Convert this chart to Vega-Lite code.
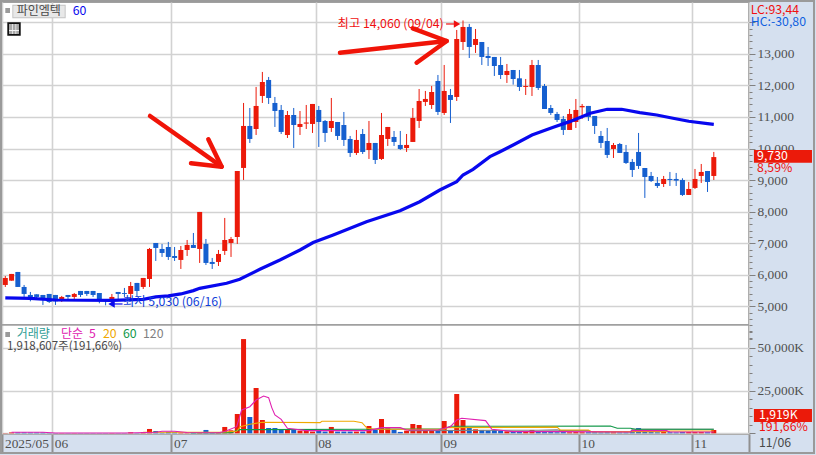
{
  "$schema": "https://vega.github.io/schema/vega-lite/v6.json",
  "autosize": "none",
  "width": 747,
  "height": 432,
  "padding": {"left": 2, "top": 2, "right": 67, "bottom": 21},
  "background": "#d5e0ef",
  "view": {"fill": "#ffffff", "stroke": "#a0a0a0", "strokeWidth": 2},
  "config": {
    "axis": {"title": null, "labelFont": "Liberation Sans Narrow", "labelColor": "#505050", "labelFontSize": 13.4, "gridColor": "#d2d2d2", "gridWidth": 1.6, "tickColor": "#808080", "domain": false},
    "text": {"font": "Liberation Sans Narrow, Noto Sans CJK KR"}
  },
  "datasets": {
    "candles": [
      {"i":0,"o":5676,"c":5898,"h":5961,"l":5613,"v":150,"d":"up"},
      {"i":1,"o":5812,"c":6025,"h":6025,"l":5812,"v":500,"d":"up"},
      {"i":2,"o":6088,"c":5613,"h":6088,"l":5613,"v":500,"d":"down"},
      {"i":3,"o":5613,"c":5391,"h":5676,"l":5296,"v":500,"d":"down"},
      {"i":4,"o":5359,"c":5200,"h":5454,"l":5158,"v":450,"d":"down"},
      {"i":5,"o":5380,"c":5296,"h":5380,"l":5200,"v":450,"d":"down"},
      {"i":6,"o":5359,"c":5200,"h":5359,"l":5042,"v":450,"d":"down"},
      {"i":7,"o":5391,"c":5137,"h":5391,"l":5106,"v":150,"d":"down"},
      {"i":8,"o":5359,"c":5158,"h":5359,"l":5042,"v":120,"d":"down"},
      {"i":9,"o":5169,"c":5296,"h":5328,"l":5137,"v":100,"d":"up"},
      {"i":10,"o":5359,"c":5296,"h":5359,"l":5169,"v":100,"d":"down"},
      {"i":11,"o":5296,"c":5391,"h":5422,"l":5232,"v":100,"d":"up"},
      {"i":12,"o":5486,"c":5359,"h":5486,"l":5296,"v":100,"d":"down"},
      {"i":13,"o":5486,"c":5391,"h":5486,"l":5328,"v":100,"d":"down"},
      {"i":14,"o":5486,"c":5359,"h":5486,"l":5296,"v":100,"d":"down"},
      {"i":15,"o":5422,"c":5169,"h":5422,"l":5095,"v":100,"d":"down"},
      {"i":16,"o":5200,"c":5169,"h":5200,"l":5030,"v":100,"d":"down"},
      {"i":17,"o":5169,"c":5296,"h":5391,"l":5100,"v":120,"d":"up"},
      {"i":18,"o":5454,"c":5391,"h":5454,"l":5200,"v":100,"d":"down"},
      {"i":19,"o":5422,"c":5391,"h":5581,"l":5296,"v":100,"d":"down"},
      {"i":20,"o":5391,"c":5644,"h":5771,"l":5232,"v":580,"d":"up"},
      {"i":21,"o":5740,"c":5486,"h":5740,"l":5296,"v":150,"d":"down"},
      {"i":22,"o":5613,"c":5898,"h":5898,"l":5549,"v":580,"d":"up"},
      {"i":23,"o":5866,"c":6817,"h":6849,"l":5613,"v":2530,"d":"up"},
      {"i":24,"o":7007,"c":6849,"h":7007,"l":6437,"v":1360,"d":"down"},
      {"i":25,"o":6817,"c":6690,"h":6976,"l":6564,"v":400,"d":"down"},
      {"i":26,"o":6880,"c":6564,"h":7040,"l":6469,"v":800,"d":"down"},
      {"i":27,"o":6595,"c":6532,"h":6880,"l":6437,"v":600,"d":"down"},
      {"i":28,"o":6469,"c":6785,"h":6912,"l":6183,"v":400,"d":"up"},
      {"i":29,"o":6785,"c":6944,"h":7102,"l":6595,"v":300,"d":"up"},
      {"i":30,"o":6944,"c":6849,"h":7324,"l":6849,"v":300,"d":"down"},
      {"i":31,"o":6817,"c":7990,"h":7990,"l":6374,"v":400,"d":"up"},
      {"i":32,"o":6976,"c":6374,"h":7134,"l":6310,"v":1950,"d":"down"},
      {"i":33,"o":6405,"c":6342,"h":6532,"l":6183,"v":350,"d":"down"},
      {"i":34,"o":6405,"c":6659,"h":6785,"l":6278,"v":300,"d":"up"},
      {"i":35,"o":6754,"c":7102,"h":7800,"l":6627,"v":3700,"d":"up"},
      {"i":36,"o":7007,"c":7134,"h":7197,"l":6564,"v":1750,"d":"up"},
      {"i":37,"o":7197,"c":9289,"h":9289,"l":6976,"v":11280,"d":"up"},
      {"i":38,"o":9385,"c":10716,"h":11445,"l":9004,"v":55040,"d":"up"},
      {"i":39,"o":10716,"c":10304,"h":11286,"l":10177,"v":9530,"d":"down"},
      {"i":40,"o":10620,"c":11350,"h":11952,"l":10430,"v":26450,"d":"up"},
      {"i":41,"o":11667,"c":12110,"h":12428,"l":11445,"v":7780,"d":"up"},
      {"i":42,"o":12174,"c":11603,"h":12269,"l":11413,"v":3110,"d":"down"},
      {"i":43,"o":11445,"c":11191,"h":11635,"l":10684,"v":3110,"d":"down"},
      {"i":44,"o":11223,"c":10526,"h":11381,"l":10462,"v":1950,"d":"down"},
      {"i":45,"o":10430,"c":11064,"h":11191,"l":10335,"v":1950,"d":"up"},
      {"i":46,"o":11064,"c":10747,"h":11286,"l":10018,"v":2330,"d":"down"},
      {"i":47,"o":10684,"c":10779,"h":11191,"l":10430,"v":1560,"d":"up"},
      {"i":48,"o":10790,"c":10825,"h":11381,"l":10620,"v":1560,"d":"up"},
      {"i":49,"o":10779,"c":11413,"h":11413,"l":10494,"v":1000,"d":"up"},
      {"i":50,"o":11223,"c":10842,"h":11350,"l":10050,"v":1560,"d":"down"},
      {"i":51,"o":10874,"c":10494,"h":10905,"l":10209,"v":1000,"d":"down"},
      {"i":52,"o":10652,"c":10874,"h":11603,"l":10526,"v":3700,"d":"up"},
      {"i":53,"o":10842,"c":10399,"h":10842,"l":10272,"v":1000,"d":"down"},
      {"i":54,"o":10747,"c":10272,"h":11159,"l":10082,"v":1000,"d":"down"},
      {"i":55,"o":10304,"c":9860,"h":10399,"l":9733,"v":1000,"d":"down"},
      {"i":56,"o":9860,"c":10272,"h":10589,"l":9796,"v":1000,"d":"up"},
      {"i":57,"o":10462,"c":9892,"h":10620,"l":9828,"v":1000,"d":"down"},
      {"i":58,"o":9954,"c":10177,"h":10874,"l":9670,"v":4280,"d":"up"},
      {"i":59,"o":10177,"c":9638,"h":10177,"l":9511,"v":1950,"d":"down"},
      {"i":60,"o":9670,"c":10430,"h":11128,"l":9638,"v":8360,"d":"up"},
      {"i":61,"o":10304,"c":10684,"h":10684,"l":10082,"v":2900,"d":"up"},
      {"i":62,"o":10367,"c":10209,"h":10557,"l":10082,"v":1950,"d":"down"},
      {"i":63,"o":10114,"c":9987,"h":10557,"l":9955,"v":800,"d":"down"},
      {"i":64,"o":10018,"c":10114,"h":10462,"l":9892,"v":1560,"d":"up"},
      {"i":65,"o":10209,"c":10969,"h":11286,"l":10209,"v":5450,"d":"up"},
      {"i":66,"o":10874,"c":11508,"h":11888,"l":10652,"v":4860,"d":"up"},
      {"i":67,"o":11477,"c":11572,"h":11825,"l":11350,"v":1560,"d":"up"},
      {"i":68,"o":11381,"c":11793,"h":11984,"l":11255,"v":1560,"d":"up"},
      {"i":69,"o":12142,"c":11160,"h":12332,"l":11064,"v":1950,"d":"down"},
      {"i":70,"o":11128,"c":11825,"h":12649,"l":11064,"v":7200,"d":"up"},
      {"i":71,"o":11698,"c":11540,"h":11888,"l":10811,"v":1950,"d":"down"},
      {"i":72,"o":11635,"c":13473,"h":13758,"l":11508,"v":22950,"d":"up"},
      {"i":73,"o":13378,"c":13854,"h":14060,"l":13124,"v":7780,"d":"up"},
      {"i":74,"o":13854,"c":13220,"h":13950,"l":12870,"v":3110,"d":"down"},
      {"i":75,"o":13283,"c":13473,"h":13790,"l":13030,"v":2330,"d":"up"},
      {"i":76,"o":13378,"c":12903,"h":13378,"l":12649,"v":1950,"d":"down"},
      {"i":77,"o":12935,"c":12870,"h":13220,"l":12617,"v":1560,"d":"down"},
      {"i":78,"o":12903,"c":12617,"h":12903,"l":12300,"v":1950,"d":"down"},
      {"i":79,"o":12649,"c":12332,"h":12903,"l":12205,"v":1560,"d":"down"},
      {"i":80,"o":12332,"c":12459,"h":12681,"l":12079,"v":1170,"d":"up"},
      {"i":81,"o":12491,"c":12205,"h":12491,"l":12026,"v":1000,"d":"down"},
      {"i":82,"o":12226,"c":11952,"h":12491,"l":11825,"v":1000,"d":"down"},
      {"i":83,"o":11952,"c":11983,"h":12205,"l":11698,"v":1000,"d":"up"},
      {"i":84,"o":11952,"c":12649,"h":12808,"l":11666,"v":1950,"d":"up"},
      {"i":85,"o":12649,"c":11920,"h":12808,"l":11857,"v":1000,"d":"down"},
      {"i":86,"o":11983,"c":11254,"h":12047,"l":11254,"v":700,"d":"down"},
      {"i":87,"o":11286,"c":11128,"h":11381,"l":11064,"v":700,"d":"down"},
      {"i":88,"o":11096,"c":10906,"h":11160,"l":10842,"v":600,"d":"down"},
      {"i":89,"o":10938,"c":10589,"h":11033,"l":10430,"v":700,"d":"down"},
      {"i":90,"o":10589,"c":11096,"h":11254,"l":10589,"v":600,"d":"up"},
      {"i":91,"o":10842,"c":11223,"h":11571,"l":10652,"v":700,"d":"up"},
      {"i":92,"o":11307,"c":11350,"h":11413,"l":10938,"v":600,"d":"up"},
      {"i":93,"o":11350,"c":11001,"h":11350,"l":10874,"v":600,"d":"down"},
      {"i":94,"o":11033,"c":10716,"h":11033,"l":10462,"v":600,"d":"down"},
      {"i":95,"o":10399,"c":10177,"h":10557,"l":10018,"v":500,"d":"down"},
      {"i":96,"o":10240,"c":9797,"h":10652,"l":9701,"v":600,"d":"down"},
      {"i":97,"o":9987,"c":10113,"h":10177,"l":9701,"v":600,"d":"up"},
      {"i":98,"o":10145,"c":9860,"h":10177,"l":9860,"v":500,"d":"down"},
      {"i":99,"o":9892,"c":9543,"h":10113,"l":9511,"v":500,"d":"down"},
      {"i":100,"o":9575,"c":9321,"h":9670,"l":9099,"v":700,"d":"down"},
      {"i":101,"o":9892,"c":9448,"h":10494,"l":9353,"v":3100,"d":"down"},
      {"i":102,"o":9384,"c":9099,"h":9384,"l":8434,"v":1000,"d":"down"},
      {"i":103,"o":9131,"c":8972,"h":9258,"l":8941,"v":700,"d":"down"},
      {"i":104,"o":8909,"c":8814,"h":9099,"l":8751,"v":600,"d":"down"},
      {"i":105,"o":8877,"c":9036,"h":9131,"l":8782,"v":1000,"d":"up"},
      {"i":106,"o":9036,"c":9004,"h":9258,"l":8814,"v":600,"d":"down"},
      {"i":107,"o":9036,"c":8983,"h":9226,"l":8814,"v":500,"d":"down"},
      {"i":108,"o":9004,"c":8529,"h":9057,"l":8497,"v":700,"d":"down"},
      {"i":109,"o":8529,"c":8719,"h":8941,"l":8529,"v":700,"d":"up"},
      {"i":110,"o":8751,"c":9036,"h":9353,"l":8719,"v":700,"d":"up"},
      {"i":111,"o":9131,"c":9258,"h":9511,"l":8909,"v":700,"d":"up"},
      {"i":112,"o":9289,"c":8941,"h":9289,"l":8624,"v":600,"d":"down"},
      {"i":113,"o":9131,"c":9730,"h":9892,"l":9004,"v":1919,"d":"up"}
    ],
    "ma60": [
      {"i":0,"p":5264},{"i":4,"p":5250},{"i":8,"p":5200},{"i":17,"p":5190},{"i":22,"p":5222},{"i":24,"p":5296},{"i":26,"p":5328},{"i":28,"p":5391},{"i":30,"p":5497},{"i":31,"p":5570},{"i":35.3,"p":5729},{"i":37.4,"p":5856},{"i":40.6,"p":6173},{"i":43.8,"p":6467},{"i":47,"p":6785},{"i":49.1,"p":7020},{"i":52.3,"p":7260},{"i":57.6,"p":7681},{"i":62.95,"p":8030},{"i":66.1,"p":8315},{"i":69.3,"p":8686},{"i":72,"p":8949},{"i":73,"p":9162},{"i":74.6,"p":9342},{"i":77.3,"p":9744},{"i":78.9,"p":9900},{"i":81,"p":10113},{"i":84,"p":10430},{"i":87.4,"p":10673},{"i":90,"p":10853},{"i":93.3,"p":11117},{"i":96,"p":11244},{"i":98.3,"p":11244},{"i":101.2,"p":11138},{"i":103.9,"p":11064},{"i":106.5,"p":10959},{"i":109,"p":10864},{"i":112,"p":10790},{"i":113,"p":10769}
    ],
    "vma": [
      {"s":"m120","i":64.3,"v":1556},{"s":"m120","i":85,"v":1800},{"s":"m120","i":88,"v":2000},{"s":"m120","i":88.6,"v":1556},{"s":"m120","i":93,"v":1556},{"s":"m120","i":93.5,"v":800},{"s":"m120","i":99.7,"v":800},{"s":"m120","i":100,"v":2334},{"s":"m120","i":113,"v":2334},
      {"s":"m60","i":29.5,"v":390},{"s":"m60","i":36,"v":400},{"s":"m60","i":37.4,"v":2140},{"s":"m60","i":57.4,"v":2334},{"s":"m60","i":70,"v":2700},{"s":"m60","i":71,"v":4085},{"s":"m60","i":96.5,"v":4279},{"s":"m60","i":97.6,"v":2917},{"s":"m60","i":99.7,"v":2917},{"s":"m60","i":100.5,"v":2334},{"s":"m60","i":113,"v":2334},
      {"s":"m20","i":22,"v":580},{"s":"m20","i":33,"v":580},{"s":"m20","i":35,"v":800},{"s":"m20","i":36.9,"v":1200},{"s":"m20","i":37.5,"v":3890},{"s":"m20","i":39,"v":5250},{"s":"m20","i":41,"v":6420},{"s":"m20","i":50.2,"v":6224},{"s":"m20","i":50.5,"v":7000},{"s":"m20","i":55.6,"v":7000},{"s":"m20","i":56.9,"v":6224},{"s":"m20","i":57.7,"v":2917},{"s":"m20","i":59,"v":2334},{"s":"m20","i":70,"v":2334},{"s":"m20","i":70.5,"v":3300},{"s":"m20","i":88,"v":3600},{"s":"m20","i":88.5,"v":1945},{"s":"m20","i":93,"v":1945},{"s":"m20","i":93.5,"v":970},{"s":"m20","i":105.5,"v":970},{"s":"m20","i":106,"v":1360},{"s":"m20","i":113,"v":1360},
      {"s":"m5","i":1,"v":600},{"s":"m5","i":6,"v":600},{"s":"m5","i":8,"v":150},{"s":"m5","i":19,"v":150},{"s":"m5","i":21,"v":300},{"s":"m5","i":24,"v":600},{"s":"m5","i":25,"v":1170},{"s":"m5","i":27,"v":1170},{"s":"m5","i":29,"v":500},{"s":"m5","i":34,"v":300},{"s":"m5","i":35,"v":1000},{"s":"m5","i":36.9,"v":3890},{"s":"m5","i":37.7,"v":13615},{"s":"m5","i":39,"v":15560},{"s":"m5","i":40,"v":19450},{"s":"m5","i":41.2,"v":21784},{"s":"m5","i":42,"v":20811},{"s":"m5","i":42.5,"v":15000},{"s":"m5","i":43,"v":10700},{"s":"m5","i":44,"v":8169},{"s":"m5","i":45,"v":2917},{"s":"m5","i":48,"v":1556},{"s":"m5","i":58,"v":1556},{"s":"m5","i":60,"v":3300},{"s":"m5","i":63,"v":3300},{"s":"m5","i":64,"v":1945},{"s":"m5","i":69,"v":1945},{"s":"m5","i":71,"v":3890},{"s":"m5","i":72,"v":7780},{"s":"m5","i":72.8,"v":8752},{"s":"m5","i":76.6,"v":7391},{"s":"m5","i":77.6,"v":2334},{"s":"m5","i":81,"v":970},{"s":"m5","i":88.6,"v":970},{"s":"m5","i":99.7,"v":800},{"s":"m5","i":100,"v":1556},{"s":"m5","i":105.5,"v":1556},{"s":"m5","i":106,"v":800},{"s":"m5","i":113,"v":800}
    ],
    "arrows": [
      {"seg":"a1","n":1,"i":23.08,"p":11032},{"seg":"a1","n":2,"i":34.51,"p":9425},
      {"seg":"a1h","n":1,"i":32.38,"p":10293},{"seg":"a1h","n":2,"i":34.51,"p":9425},{"seg":"a1h","n":3,"i":29.62,"p":9532},
      {"seg":"a2","n":1,"i":53.38,"p":13038},{"seg":"a2","n":2,"i":70.4,"p":13409},
      {"seg":"a2h","n":1,"i":64.98,"p":13811},{"seg":"a2h","n":2,"i":70.4,"p":13409},{"seg":"a2h","n":3,"i":65.6,"p":12721}
    ],
    "pointers": [
      {"kind":"high","i":70.3,"p":13948},{"kind":"high","i":72.05,"p":13948},
      {"kind":"low","i":16.94,"p":5073},{"kind":"low","i":18.7,"p":5073}
    ],
    "pointerHeads": [
      {"kind":"high","shape":"triangle-right","i":72.05,"p":13948},
      {"kind":"low","shape":"triangle-left","i":16.94,"p":5073}
    ],
    "boxes": [
      {"kind":"edge","i":1.12,"i2":9.63,"p":14559,"p2":14128},
      {"kind":"name","i":1.28,"i2":9.47,"p":14527,"p2":14160},
      {"kind":"square","i":0,"i2":0.75,"p":14455,"p2":14296},
      {"kind":"square","i":0,"i2":0.75,"p":4185,"p2":4027},
      {"kind":"ink","i":0.32,"i2":2.46,"p":14002,"p2":13577},
      {"kind":"gray","i":0.59,"i2":2.18,"p":13948,"p2":13631},
      {"kind":"gap","i":1.08,"i2":1.2,"p":13948,"p2":13631},
      {"kind":"gap","i":1.62,"i2":1.74,"p":13948,"p2":13631},
      {"kind":"gap","i":0.59,"i2":2.18,"p":13757,"p2":13725},
      {"kind":"sep","i":-0.526,"i2":118.614,"p":4440,"p2":4380},
      {"kind":"red","i":119.4,"i2":128.66,"p":9954,"p2":9551},
      {"kind":"red","i":119.4,"i2":128.66,"p":1745,"p2":1333}
    ],
    "frame": [
      {"i":-0.686,"i2":128.98,"p":14677,"p2":350}
    ],
    "notes": [
      {"kind":"high","i":53,"p":13948,"t":"최고 14,060 (09/04)"},
      {"kind":"low","i":18.77,"p":5127,"t":"최저 5,030 (06/16)"},
      {"kind":"lc","i":118.9,"p":14391,"t":"LC:93,44"},
      {"kind":"hc","i":118.9,"p":14011,"t":"HC:-30,80"},
      {"kind":"white","i":119.9,"p":9764,"t":"9,730"},
      {"kind":"lc","i":119.9,"p":9374,"t":"8,59%"},
      {"kind":"white","i":120.2,"p":1539,"t":"1,919K"},
      {"kind":"lc","i":120.2,"p":1165,"t":"191,66%"},
      {"kind":"axis","i":120.2,"p":657,"t":"11/06"},
      {"kind":"blue60","i":10.75,"p":14344,"t":"60"},
      {"kind":"m5","i":13.35,"p":4122,"t":"5"},
      {"kind":"m20","i":15.58,"p":4122,"t":"20"},
      {"kind":"m60","i":18.77,"p":4122,"t":"60"},
      {"kind":"m120","i":21.96,"p":4122,"t":"120"}
    ],
    "volumeNote": [
      {"i":0.27,"p":3710,"t":"1,918,607주(191,66%)"}
    ],
    "hangul": [
      {"kind":"axis","i":1.82,"p":14344,"t":"파인엠텍"},
      {"kind":"vol","i":1.82,"p":4122,"t":"거래량"},
      {"kind":"m5","i":8.88,"p":4122,"t":"단순"}
    ]
  },
  "encoding": {
    "x": {
      "field": "i",
      "type": "quantitative",
      "scale": {"domain": [-0.526, 118.614], "padding": 0},
      "axis": {
        "orient": "bottom",
        "values": [-0.45, 7.5, 26.5, 49.5, 69.5, 91.5, 109.5, 118.6],
        "labelExpr": "datum.value < 0 ? '2025/05' : datum.value == 7.5 ? '06' : datum.value == 26.5 ? '07' : datum.value == 49.5 ? '08' : datum.value == 69.5 ? '09' : datum.value == 91.5 ? '10' : datum.value == 109.5 ? '11' : ''",
        "grid": true,
        "ticks": true,
        "tickSize": 19,
        "tickWidth": 2,
        "tickColor": "#909090",
        "labelAlign": "left",
        "labelBaseline": "middle",
        "labelPadding": -10,
        "labelOffset": 2,
        "labelOverlap": false,
        "labelFlush": false,
        "labelBound": false
      }
    }
  },
  "layer": [
    {
      "data": {"name": "candles"},
      "mark": {"type": "rule", "strokeWidth": 1},
      "encoding": {
        "y": {
          "field": "l",
          "type": "quantitative",
          "scale": {"domain": [952, 14645]},
          "axis": {
            "orient": "right",
            "values": [5000, 6000, 7000, 8000, 9000, 10000, 11000, 12000, 13000, 14000],
            "labelExpr": "datum.value > 13000 ? '' : format(datum.value, ',')",
            "grid": true,
            "tickSize": 6,
            "tickWidth": 1,
            "labelPadding": 2,
            "labelOverlap": false,
            "labelBound": false,
            "labelFlush": false
          }
        },
        "y2": {"field": "h"},
        "color": {"field": "d", "type": "nominal", "scale": {"domain": ["up", "down"], "range": ["#eb1a0a", "#155fcf"]}, "legend": null}
      }
    },
    {
      "data": {"name": "candles"},
      "mark": {"type": "bar", "width": 5},
      "encoding": {
        "y": {"field": "o", "type": "quantitative", "scale": {"domain": [952, 14645]}, "axis": null},
        "y2": {"field": "c"},
        "color": {"field": "d", "type": "nominal", "scale": {"domain": ["up", "down"], "range": ["#eb1a0a", "#155fcf"]}, "legend": null}
      }
    },
    {
      "data": {"name": "candles"},
      "mark": {"type": "bar", "width": 5},
      "encoding": {
        "y": {
          "field": "v",
          "type": "quantitative",
          "scale": {"domain": [-409, 251930]},
          "axis": {
            "orient": "right",
            "values": [0, 25000, 50000],
            "labelExpr": "datum.value == 0 ? '' : format(datum.value, ',') + 'K'",
            "grid": true,
            "tickSize": 6,
            "tickWidth": 1,
            "labelPadding": 2,
            "labelOverlap": false,
            "labelBound": false,
            "labelFlush": false
          }
        },
        "color": {"field": "d", "type": "nominal", "scale": {"domain": ["up", "down"], "range": ["#eb1a0a", "#155fcf"]}, "legend": null}
      }
    },
    {
      "data": {"name": "ma60"},
      "mark": {"type": "line", "stroke": "#0808ee", "strokeWidth": 3.2},
      "encoding": {
        "y": {
          "field": "p",
          "type": "quantitative",
          "scale": {"domain": [952, 14645]},
          "axis": {
            "orient": "right",
            "values": [4000, 4200, 4400, 4600, 4800, 5200, 5400, 5600, 5800, 6200, 6400, 6600, 6800, 7200, 7400, 7600, 7800, 8200, 8400, 8600, 8800, 9200, 9400, 9600, 9800, 10200, 10400, 10600, 10800, 11200, 11400, 11600, 11800, 12200, 12400, 12600, 12800, 13200, 13400, 13600, 13800],
            "labels": false,
            "grid": false,
            "tickSize": 3,
            "tickWidth": 1
          }
        }
      }
    },
    {
      "data": {"name": "vma"},
      "mark": {"type": "line", "strokeWidth": 1.1},
      "encoding": {
        "y": {
          "field": "v",
          "type": "quantitative",
          "scale": {"domain": [-409, 251930]},
          "axis": {
            "orient": "right",
            "values": [5000, 10000, 15000, 20000, 30000, 35000, 40000, 45000, 55000, 60000],
            "labels": false,
            "grid": false,
            "tickSize": 3,
            "tickWidth": 1
          }
        },
        "color": {"field": "s", "type": "nominal", "sort": null, "scale": {"domain": ["m120", "m60", "m20", "m5"], "range": ["#808080", "#109848", "#f0a800", "#e020b0"]}, "legend": null}
      }
    },
    {
      "data": {"name": "boxes"},
      "mark": {"type": "rect"},
      "encoding": {
        "x2": {"field": "i2"},
        "y": {"field": "p", "type": "quantitative", "scale": {"domain": [952, 14645]}, "axis": null},
        "y2": {"field": "p2"},
        "color": {"field": "kind", "type": "nominal", "scale": {"domain": ["edge", "name", "square", "ink", "gray", "gap", "sep", "red"], "range": ["#c4c4c4", "#e8e8e8", "#9a9a9a", "#111111", "#a8a8a8", "#f4f4f4", "#a0a0a0", "#eb1a0a"]}, "legend": null}
      }
    },
    {
      "data": {"name": "frame"},
      "mark": {"type": "rect", "fillOpacity": 0, "stroke": "#9a9a9a", "strokeWidth": 2},
      "encoding": {
        "x2": {"field": "i2"},
        "y": {"field": "p", "type": "quantitative", "scale": {"domain": [952, 14645]}, "axis": null},
        "y2": {"field": "p2"}
      }
    },
    {
      "data": {"name": "arrows"},
      "mark": {"type": "line", "stroke": "#f01408", "strokeWidth": 4.5, "strokeCap": "round", "strokeJoin": "round"},
      "encoding": {
        "y": {"field": "p", "type": "quantitative", "scale": {"domain": [952, 14645]}, "axis": null},
        "detail": {"field": "seg"},
        "order": {"field": "n"}
      }
    },
    {
      "data": {"name": "pointers"},
      "mark": {"type": "line", "strokeWidth": 1.2},
      "encoding": {
        "y": {"field": "p", "type": "quantitative", "scale": {"domain": [952, 14645]}, "axis": null},
        "color": {"field": "kind", "type": "nominal", "scale": {"domain": ["high", "low"], "range": ["#f01010", "#0808ee"]}, "legend": null}
      }
    },
    {
      "data": {"name": "pointerHeads"},
      "mark": {"type": "point", "filled": true, "opacity": 1, "size": 55},
      "encoding": {
        "y": {"field": "p", "type": "quantitative", "scale": {"domain": [952, 14645]}, "axis": null},
        "shape": {"field": "shape", "type": "nominal", "scale": null},
        "color": {"field": "kind", "type": "nominal", "scale": {"domain": ["high", "low"], "range": ["#f01010", "#0808ee"]}, "legend": null}
      }
    },
    {
      "data": {"name": "notes"},
      "mark": {"type": "text", "align": "left", "baseline": "middle", "fontSize": 12.3},
      "encoding": {
        "y": {"field": "p", "type": "quantitative", "scale": {"domain": [952, 14645]}, "axis": null},
        "text": {"field": "t"},
        "color": {"field": "kind", "type": "nominal", "scale": {"domain": ["high", "low", "lc", "hc", "white", "axis", "blue60", "vol", "m5", "m20", "m60", "m120"], "range": ["#f01010", "#1040d8", "#f01010", "#1060e0", "#ffffff", "#484848", "#0808ee", "#2f9e96", "#e020b0", "#f0a800", "#109848", "#808080"]}, "legend": null}
      }
    },
    {
      "data": {"name": "volumeNote"},
      "mark": {"type": "text", "align": "left", "baseline": "middle", "fontSize": 11.5, "color": "#484848"},
      "encoding": {
        "y": {"field": "p", "type": "quantitative", "scale": {"domain": [952, 14645]}, "axis": null},
        "text": {"field": "t"}
      }
    },
    {
      "data": {"name": "hangul"},
      "mark": {"type": "text", "align": "left", "baseline": "middle", "fontSize": 12, "font": "Noto Sans CJK KR"},
      "encoding": {
        "y": {"field": "p", "type": "quantitative", "scale": {"domain": [952, 14645]}, "axis": null},
        "text": {"field": "t"},
        "color": {"field": "kind", "type": "nominal", "scale": {"domain": ["axis", "vol", "m5"], "range": ["#484848", "#2f9e96", "#e020b0"]}, "legend": null}
      }
    }
  ],
  "resolve": {"scale": {"y": "independent", "color": "independent"}, "axis": {"y": "independent"}}
}
